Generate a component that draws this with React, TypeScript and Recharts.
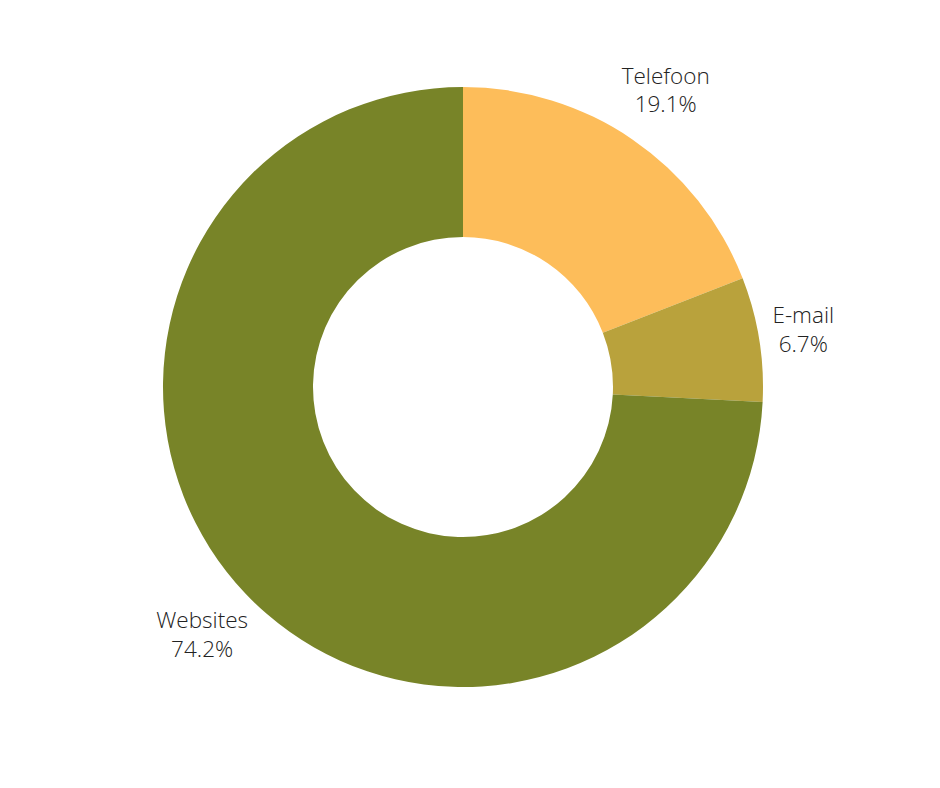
import React from "react";
import { PieChart, Pie, Cell } from "recharts";

const categories = ["Telefoon", "E-mail", "Websites"];
const shares = [19.1, 6.7, 74.2];
const colors = ["#FDBD5A", "#B9A23C", "#788428"];

const data = categories.map((name, i) => ({ name, value: shares[i] }));

// label placement tweaks (angle offset in degrees, extra radius in px)
const labelNudge: Record<string, { da: number; dr: number }> = {
  Telefoon: { da: 0, dr: 59 },
  "E-mail": { da: 0.3, dr: 45 },
  Websites: { da: 0, dr: 60 },
};

const RAD = Math.PI / 180;

const renderLabel = (props: any) => {
  const { cx, cy, midAngle, outerRadius, name, value } = props;
  const n = labelNudge[name] || { da: 0, dr: 50 };
  const a = (midAngle + n.da) * RAD;
  const r = outerRadius + n.dr;
  const x = cx + r * Math.cos(a);
  const y = cy - r * Math.sin(a);
  return (
    <text
      x={x}
      y={y}
      textAnchor="middle"
      fill="#222222"
      style={{ fontFamily: "'Open Sans', sans-serif", fontWeight: 300, fontSize: 22.5 }}
    >
      <tspan x={x} y={y - 7}>
        {name}
      </tspan>
      <tspan x={x} y={y + 21.5}>
        {value.toFixed(1)}%
      </tspan>
    </text>
  );
};

export default function App() {
  return (
    <div style={{ position: "absolute", left: 0, top: 0, width: 940, height: 788, background: "#fff" }}>
      <PieChart width={940} height={788} margin={{ top: 0, right: 0, bottom: 0, left: 0 }}>
        <Pie
          data={data}
          dataKey="value"
          nameKey="name"
          cx={463}
          cy={387}
          innerRadius={150}
          outerRadius={300}
          startAngle={90}
          endAngle={-270}
          stroke="none"
          label={renderLabel}
          labelLine={false}
          isAnimationActive={false}
        >
          {data.map((d, i) => (
            <Cell key={d.name} fill={colors[i]} />
          ))}
        </Pie>
      </PieChart>
    </div>
  );
}
